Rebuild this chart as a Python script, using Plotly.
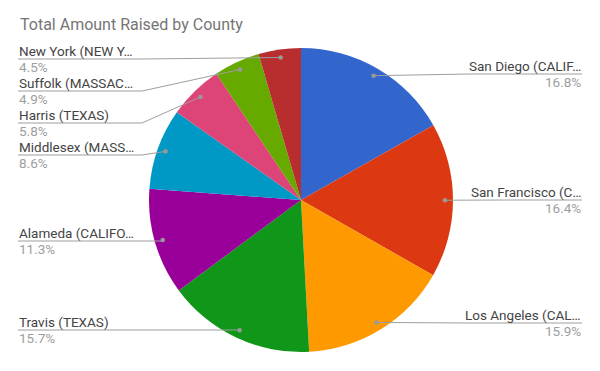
import math
import plotly.graph_objects as go

# ---- data ----
labels = ["San Diego (CALIF…", "San Francisco (C…", "Los Angeles (CAL…", "Travis (TEXAS)",
          "Alameda (CALIFO…", "Middlesex (MASS…", "Harris (TEXAS)", "Suffolk (MASSAC…",
          "New York (NEW Y…"]
values = [16.8, 16.4, 15.9, 15.7, 11.3, 8.6, 5.8, 4.9, 4.5]
colors = ["#3366cc", "#dc3912", "#ff9900", "#109618", "#990099",
          "#0099c6", "#dd4477", "#66aa00", "#b82e2e"]

# ---- layout helpers (pixel geometry) ----
W, H = 600, 371
CX, CY, R = 301, 200, 152
label_side = ["R", "R", "R", "L", "L", "L", "L", "L", "L"]
label_line_y = [74, 200, 323, 330, 241, 155, 123, 91, 59]
FS = 13.5

def px(x):
    return x / W

def py(y):
    return 1 - y / H

fig = go.Figure(go.Pie(
    labels=labels, values=values, sort=False, direction="clockwise", rotation=0,
    marker=dict(colors=colors, line=dict(width=0)),
    textinfo="none", showlegend=False, hoverinfo="label+percent",
    domain=dict(x=[px(CX - R), px(CX + R)], y=[py(CY + R), py(CY - R)]),
))

total = sum(values)
shapes, annotations = [], []
cum = 0.0
line_col = "#9e9e9e"
for lab, v, side, ly in zip(labels, values, label_side, label_line_y):
    mid = (cum + v / 2) / total * 2 * math.pi
    cum += v
    dx = CX + 0.947 * R * math.sin(mid)
    dy = CY - 0.947 * R * math.cos(mid)
    pct = f"{v / total * 100:.1f}%"
    if side == "R":
        xe = 582
        path = f"M {px(xe)} {py(ly)} L {px(max(dx + 60, 470))} {py(ly)} L {px(dx)} {py(dy)}"
        anchor = "right"
    else:
        xe = 18
        kx = 142 if dx > 150 else dx - 20
        if abs(dy - ly) < 1.5:
            kx = dx
        path = f"M {px(xe)} {py(ly)} L {px(kx)} {py(ly)} L {px(dx)} {py(dy)}"
        anchor = "left"
    shapes.append(dict(type="path", path=path, xref="paper", yref="paper",
                       line=dict(color=line_col, width=1)))
    shapes.append(dict(type="circle", xref="paper", yref="paper",
                       x0=px(dx - 2.3), x1=px(dx + 2.3), y0=py(dy + 2.3), y1=py(dy - 2.3),
                       fillcolor="#999999", line=dict(width=0)))
    annotations.append(dict(text=lab, x=px(xe), y=py(ly - 8), xref="paper", yref="paper",
                            xanchor=anchor, yanchor="middle", showarrow=False, borderpad=0,
                            font=dict(family="Roboto", size=FS, color="#444444")))
    annotations.append(dict(text=pct, x=px(xe), y=py(ly + 8), xref="paper", yref="paper",
                            xanchor=anchor, yanchor="middle", showarrow=False, borderpad=0,
                            font=dict(family="Roboto", size=FS, color="#9e9e9e")))

annotations.append(dict(text="Total Amount Raised by County", x=px(18), y=py(24),
                        xref="paper", yref="paper", xanchor="left", yanchor="middle",
                        showarrow=False,
                        font=dict(family="Roboto", size=16, color="#757575")))

fig.update_layout(width=W, height=H, margin=dict(l=0, r=0, t=0, b=0),
                  paper_bgcolor="white", plot_bgcolor="white",
                  shapes=shapes, annotations=annotations)
fig.write_html("out.html", config={"displayModeBar": False},
               post_script="document.body.style.margin='0';document.body.style.overflow='hidden';")
